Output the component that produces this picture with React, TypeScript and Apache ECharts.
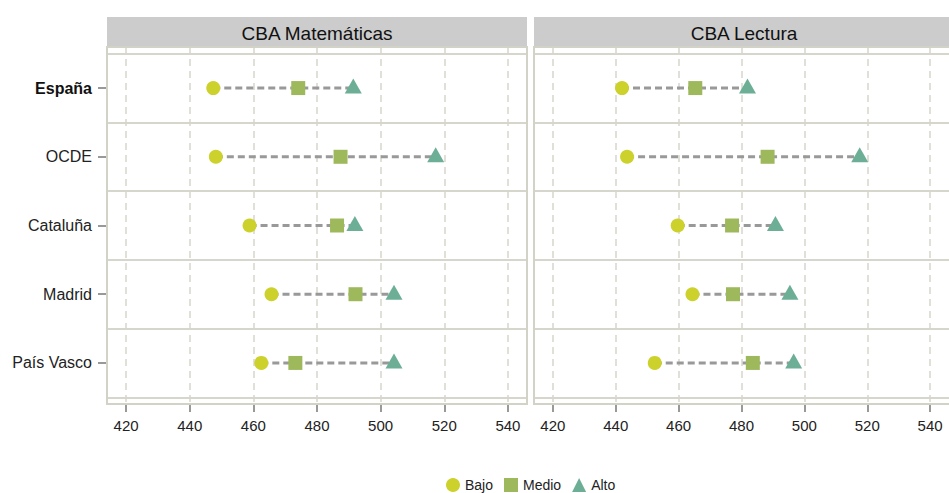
import React, { useEffect, useRef } from 'react';
import * as echarts from 'echarts';

const regions = ['España', 'OCDE', 'Cataluña', 'Madrid', 'País Vasco'];
const panelTitles = ['CBA Matemáticas', 'CBA Lectura'];
const levels = ['Bajo', 'Medio', 'Alto'];

const matBajo = [447.4, 448.2, 458.8, 465.7, 462.5];
const matMedio = [474.1, 487.4, 486.3, 492.1, 473.2];
const matAlto = [491.4, 517.3, 491.9, 504.2, 504.2];

const lecBajo = [442.0, 443.6, 459.7, 464.4, 452.4];
const lecMedio = [465.3, 488.3, 477.0, 477.3, 483.6];
const lecAlto = [481.9, 517.6, 490.8, 495.4, 496.6];

const xTicks = [420, 440, 460, 480, 500, 520, 540];

const FONT = "'Liberation Sans', Arial, sans-serif";
const COLORS = ['#ccd12c', '#9eb95c', '#6caf96'];

export default function App() {
  const ref = useRef<HTMLDivElement>(null);
  useEffect(() => {
    if (!ref.current) return;
    const chart = echarts.init(ref.current, undefined, { renderer: 'svg' });
    const panels = [
      [matBajo, matMedio, matAlto],
      [lecBajo, lecMedio, lecAlto],
    ];
    const lefts = [107, 534];
    const W = 420;
    const top = 47;
    const H = 357;
    const yMin = -0.5976;
    const yMax = 4.5976;
    const rowIdx = regions.map((_, i) => i);
    const bounds = [-0.5, 0.5, 1.5, 2.5, 3.5, 4.5];

    const grid = lefts.map((l) => ({ left: l, top, width: W, height: H, containLabel: false }));
    const xAxis = lefts.map((_, p) => ({
      type: 'value',
      gridIndex: p,
      position: 'bottom',
      min: 414,
      max: 546,
      axisLine: { show: false, onZero: false },
      axisTick: { show: true, length: 8, customValues: xTicks, lineStyle: { color: '#777', width: 1.5 } },
      axisLabel: { customValues: xTicks, fontSize: 15, color: '#222', margin: 14, fontFamily: FONT },
      splitLine: { show: true, lineStyle: { type: [7, 5], color: '#d6d6cc', width: 1.5 } },
    }));
    const yAxis: any[] = [];
    lefts.forEach((_, p) => {
      yAxis.push({
        type: 'value',
        gridIndex: p,
        position: 'left',
        inverse: true,
        min: yMin,
        max: yMax,
        axisLine: { show: false, onZero: false },
        axisTick: { show: p === 0, length: 9, customValues: rowIdx, lineStyle: { color: '#777', width: 1.5 } },
        axisLabel: {
          show: p === 0,
          customValues: rowIdx,
          margin: 15,
          fontSize: 16,
          color: '#222',
          fontFamily: FONT,
          formatter: (v: number) => {
            const i = Math.round(v);
            return i === 0 ? '{b|' + regions[i] + '}' : regions[i] ?? '';
          },
          rich: { b: { fontWeight: 'bold', fontSize: 16, color: '#111', fontFamily: FONT } },
        },
        splitLine: { show: false },
      });
      yAxis.push({
        type: 'value',
        gridIndex: p,
        position: 'left',
        inverse: true,
        min: yMin,
        max: yMax,
        axisLine: { show: false, onZero: false },
        axisTick: { show: false, customValues: bounds },
        axisLabel: { show: false, customValues: bounds },
        splitLine: { show: true, lineStyle: { color: '#d6d6cc', width: 2 } },
      });
    });

    const series: any[] = [];
    panels.forEach((vals, p) => {
      const [b, m, a] = vals;
      regions.forEach((_, i) => {
        series.push({
          type: 'line',
          name: 'rango-' + p + '-' + i,
          xAxisIndex: p,
          yAxisIndex: p * 2,
          data: [[b[i], i], [a[i], i]],
          symbol: 'none',
          silent: true,
          lineStyle: { color: '#999999', width: 3, type: [7, 4] },
          z: 2,
        });
      });
      const symbols = ['circle', 'rect', 'triangle'];
      const sizes: any[] = [14, 14, [17, 15]];
      const offsets: any[] = [[0, 0], [0, 0], [0, -2]];
      vals.forEach((arr, k) => {
        series.push({
          type: 'scatter',
          name: levels[k],
          xAxisIndex: p,
          yAxisIndex: p * 2,
          data: arr.map((v, i) => [v, i]),
          symbol: symbols[k],
          symbolSize: sizes[k],
          symbolOffset: offsets[k],
          itemStyle: { color: COLORS[k], opacity: 1 },
          z: 3,
        });
      });
    });

    const graphic: any[] = [];
    lefts.forEach((l, p) => {
      graphic.push({
        type: 'rect',
        shape: { x: l, y: 17, width: W, height: 30 },
        style: { fill: '#cccccc' },
        z: 1,
        silent: true,
      });
      graphic.push({
        type: 'text',
        x: l + W / 2,
        y: 33,
        style: {
          text: panelTitles[p],
          fontSize: 19,
          fill: '#111',
          fontFamily: FONT,
          textAlign: 'center',
          textVerticalAlign: 'middle',
        },
        z: 2,
        silent: true,
      });
      graphic.push({
        type: 'rect',
        shape: { x: l, y: top, width: W, height: H },
        style: { fill: 'none', stroke: '#d2d2c6', lineWidth: 2 },
        z: 1,
        silent: true,
      });
    });

    chart.setOption({
      animation: false,
      textStyle: { fontFamily: FONT },
      grid,
      xAxis,
      yAxis,
      series,
      graphic,
      legend: {
        data: [
          { name: 'Bajo', icon: 'circle' },
          { name: 'Medio', icon: 'rect' },
          { name: 'Alto', icon: 'triangle' },
        ],
        left: 441,
        top: 473,
        itemWidth: 14,
        itemHeight: 14,
        itemGap: 11,
        textStyle: { fontSize: 14, color: '#222', fontFamily: FONT },
      },
    });
    return () => chart.dispose();
  }, []);
  return (
    <div
      ref={ref}
      style={{ position: 'fixed', left: 0, top: 0, width: 949, height: 493, background: '#fff' }}
    />
  );
}
